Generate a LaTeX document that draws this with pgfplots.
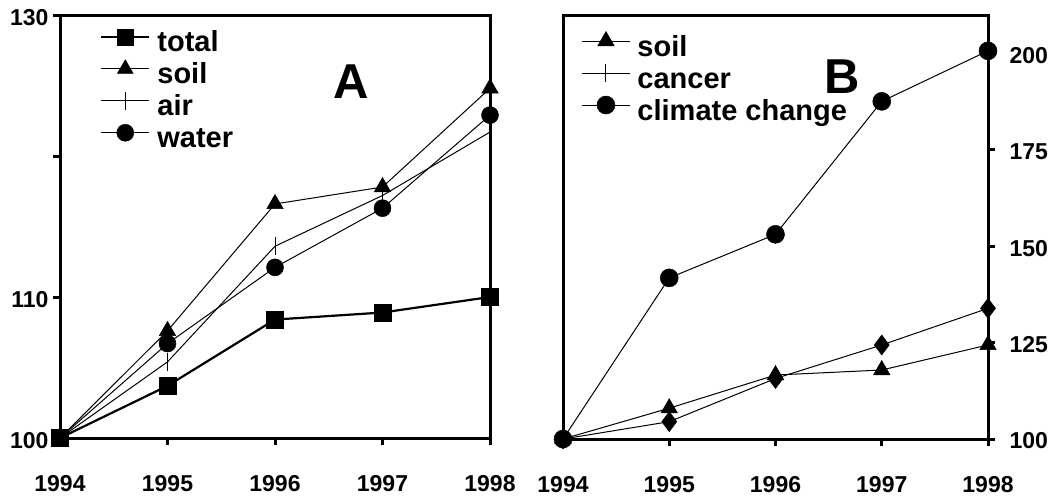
\documentclass[border=0pt]{standalone}
\usepackage{fontspec}
\setmainfont{Liberation Sans}
\usepackage{pgfplots}
\pgfplotsset{compat=1.18}
\pgfplotsset{
  panel/.style={
    scale only axis,
    clip=false,
    xmin=1994, xmax=1998,
    xtick={1994,1995,1996,1997,1998},
    xticklabels={1994,1995,1996,1997,1998},
    xtick pos=bottom,
    tick align=outside,
    major tick length=7pt,
    axis line style={line width=3pt},
    major tick style={line width=3pt, black},
    every tick label/.append style={font=\fontsize{23}{25}\selectfont\bfseries},
    /pgf/number format/assume math mode=true,
    xticklabel style={yshift=-27pt},
    legend image code/.code={\draw[mark repeat=2,mark phase=2,yshift=15pt,#1] plot coordinates {(0pt,0pt) (24pt,0pt) (48pt,0pt)};},
    legend style={draw=none, fill=none, inner sep=0pt, anchor=north west,
      font=\fontsize{29}{31}\selectfont\bfseries,
      nodes={anchor=base west, inner sep=0pt, text height=26pt, text depth=6pt},
      /tikz/every odd column/.append style={column sep=7pt},
      row sep=0pt},
  },
  thin/.style={black, line width=1pt},
}
\begin{document}
\begin{tikzpicture}
\useasboundingbox (0,0) rectangle (1054pt,-496pt);
\begin{axis}[panel,
  at={(60pt,-438pt)}, anchor=south west,
  width=430pt, height=423pt,
  ymin=100, ymax=130,
  ytick={100,110,120,130},
  yticklabels={100,110,,130},
  ytick pos=left,
  yticklabel style={yshift=-3pt, xshift=-1pt},
  legend style={at={(rel axis cs:0.093,0.975)}},
]
\addplot[thin, mark=triangle*, mark size=9.5pt, mark options={line width=0.5pt}] coordinates {(1994,100) (1995,107.6) (1996,116.6) (1997,117.8) (1998,124.8)};
\addplot[thin, mark=|, mark size=9pt] coordinates {(1994,100) (1995,105.4) (1996,113.6) (1997,117.2) (1998,121.7)};
\addplot[thin, mark=*, mark size=8.5pt, mark options={line width=0.5pt}] coordinates {(1994,100) (1995,106.7) (1996,112.1) (1997,116.3) (1998,122.9)};
\addplot[black, line width=2.2pt, mark=square*, mark size=8.5pt, mark options={line width=0.5pt}] coordinates {(1994,100) (1995,103.7) (1996,108.4) (1997,108.9) (1998,110.0)};
\legend{}
\end{axis}
\begin{axis}[panel,
  at={(60pt,-438pt)}, anchor=south west,
  width=430pt, height=423pt,
  ymin=100, ymax=130,
  hide axis,
  legend style={at={(rel axis cs:0.093,0.975)}},
]
\addlegendimage{black, line width=2.2pt, mark=square*, mark size=8pt, mark options={line width=0.5pt}}
\addlegendentry{total}
\addlegendimage{thin, mark=triangle*, mark size=9pt, mark options={line width=0.5pt}}
\addlegendentry{soil}
\addlegendimage{thin, mark=|, mark size=9pt}
\addlegendentry{air}
\addlegendimage{thin, mark=*, mark size=8.5pt, mark options={line width=0.5pt}}
\addlegendentry{water}
\node[font=\fontsize{49}{50}\selectfont\bfseries] at (axis cs:1996.71,125.27) {A};
\end{axis}
\begin{axis}[panel,
  at={(563pt,-439pt)}, anchor=south west,
  width=425pt, height=424pt,
  ymin=100, ymax=210,
  ytick={100,125,150,175,200},
  ytick pos=right,
  yticklabel pos=right,
  yticklabel style={xshift=11pt, yshift=-2pt},
  legend style={at={(rel axis cs:0.043,0.965)}},
]
\addplot[thin, mark=triangle*, mark size=9.5pt, mark options={line width=0.5pt}] coordinates {(1994,100) (1995,108.0) (1996,116.6) (1997,117.9) (1998,124.4)};
\addlegendentry{soil}
\addplot[thin, mark=diamond*, mark size=10pt, mark options={line width=0.5pt}, forget plot] coordinates {(1994,100) (1995,104.5) (1996,115.7) (1997,124.4) (1998,133.9)};
\addlegendimage{thin, mark=|, mark size=9pt}
\addlegendentry{cancer}
\addplot[thin, mark=*, mark size=9pt, mark options={line width=0.5pt}] coordinates {(1994,100) (1995,141.8) (1996,153.1) (1997,187.6) (1998,200.7)};
\addlegendentry{climate change}
\node[font=\fontsize{49}{50}\selectfont\bfseries] at (axis cs:1996.63,193.9) {B};
\end{axis}
\end{tikzpicture}
\end{document}
